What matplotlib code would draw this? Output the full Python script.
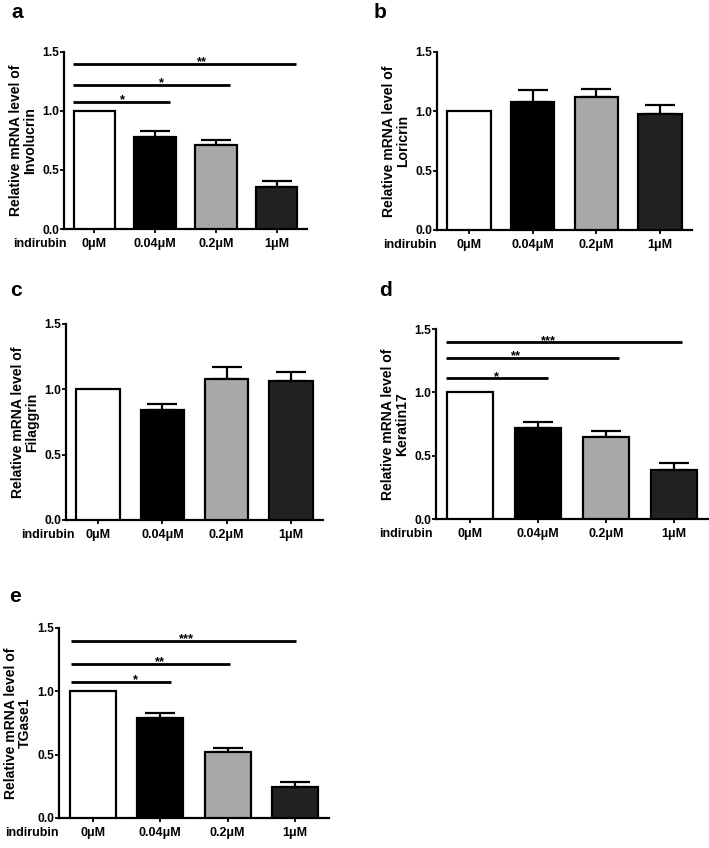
import matplotlib
matplotlib.use('Agg')
import matplotlib.pyplot as plt

plt.rcParams['font.family'] = ['Liberation Sans', 'DejaVu Sans']
plt.rcParams['font.weight'] = 'bold'

# ---------------- data ----------------
doses = ['0μM', '0.04μM', '0.2μM', '1μM']
treatment = 'indirubin'
genes = ['Involucrin', 'Loricrin', 'Filaggrin', 'Keratin17', 'TGase1']
panel_letters = ['a', 'b', 'c', 'd', 'e']

involucrin_mean = [1.0, 0.78, 0.71, 0.36]
involucrin_err = [0.0, 0.05, 0.04, 0.05]
loricrin_mean = [1.0, 1.08, 1.12, 0.98]
loricrin_err = [0.0, 0.10, 0.07, 0.07]
filaggrin_mean = [1.0, 0.84, 1.08, 1.06]
filaggrin_err = [0.0, 0.05, 0.09, 0.07]
keratin17_mean = [1.0, 0.72, 0.65, 0.39]
keratin17_err = [0.0, 0.045, 0.045, 0.05]
tgase1_mean = [1.0, 0.79, 0.525, 0.245]
tgase1_err = [0.0, 0.04, 0.03, 0.037]

involucrin_sig = ['*', '*', '**']
keratin17_sig = ['*', '**', '***']
tgase1_sig = ['*', '**', '***']

means = [involucrin_mean, loricrin_mean, filaggrin_mean, keratin17_mean, tgase1_mean]
errs = [involucrin_err, loricrin_err, filaggrin_err, keratin17_err, tgase1_err]
sigs = [involucrin_sig, None, None, keratin17_sig, tgase1_sig]

# ---------------- layout / style ----------------
W, H = 709, 848
DPI = 72
fig = plt.figure(figsize=(W / DPI, H / DPI), dpi=DPI)

# axes boxes in pixels: left, right, top, bottom
boxes = [
    (64, 307, 52, 229),
    (437, 692, 52, 230),
    (66, 323, 324, 520),
    (436, 708, 329, 519),
    (59, 329, 628, 818),
]
letter_pos = [(17, 12), (380, 12), (16, 290), (385, 290), (15, 597)]
indirubin_x = [-0.45, -0.5, -0.37, -0.55, -0.5]

# significance bar geometry: (start, end, height, star x)
sig_geom = [
    [(-0.36, 1.25, 1.08, 0.45), (-0.36, 2.24, 1.22, 1.09), (-0.36, 3.32, 1.40, 1.76)],
    None,
    None,
    [(-0.35, 1.15, 1.11, 0.37), (-0.35, 2.19, 1.27, 0.66), (-0.35, 3.12, 1.395, 1.14)],
    [(-0.32, 1.16, 1.072, 0.62), (-0.32, 2.03, 1.216, 0.98), (-0.32, 3.01, 1.40, 1.38)],
]

bar_colors = ['white', 'black', '#a8a8a8', '#222222']
x = list(range(len(doses)))

for i, gene in enumerate(genes):
    l, r, t, b = boxes[i]
    ax = fig.add_axes([l / W, (H - b) / H, (r - l) / W, (b - t) / H])
    ax.bar(x, means[i], width=0.68, color=bar_colors, edgecolor='black',
           linewidth=2.2, zorder=3)
    ex = [xx for xx, e in zip(x, errs[i]) if e > 0]
    ey = [m for m, e in zip(means[i], errs[i]) if e > 0]
    ee = [e for e in errs[i] if e > 0]
    ax.errorbar(ex, ey, yerr=[[0] * len(ee), ee], fmt='none', ecolor='black',
                elinewidth=2.2, capsize=15, capthick=2.2, zorder=2)
    ax.set_xlim(-0.5, 3.5)
    ax.set_ylim(0, 1.5)
    ax.set_yticks([0, 0.5, 1.0, 1.5])
    ax.set_yticklabels(['0.0', '0.5', '1.0', '1.5'], fontsize=12, fontweight='bold')
    ax.set_xticks(x)
    ax.set_xticklabels(doses, fontsize=12.5, fontweight='bold')
    ax.tick_params(axis='both', direction='out', length=4, width=1.8, pad=5)
    ax.tick_params(axis='y', pad=1)
    for s in ['top', 'right']:
        ax.spines[s].set_visible(False)
    for s in ['left', 'bottom']:
        ax.spines[s].set_linewidth(2.2)
    ax.set_ylabel('Relative mRNA level of\n' + gene, fontsize=14,
                  fontweight='bold', linespacing=1.0, labelpad=5)
    ax.annotate(treatment, xy=(indirubin_x[i], 0), xycoords=('data', 'axes fraction'),
                xytext=(0, -9), textcoords='offset points', ha='right', va='top',
                fontsize=12.5, fontweight='bold', annotation_clip=False)
    if sigs[i] is not None:
        for lab, (x0, x1, y, sx) in zip(sigs[i], sig_geom[i]):
            ax.plot([x0, x1], [y, y], color='black', lw=2.8, solid_capstyle='butt',
                    clip_on=False, zorder=4)
            ax.text(sx, y - 0.035, lab, ha='center', va='bottom', fontsize=13,
                    fontweight='bold')
    lx, ly = letter_pos[i]
    fig.text(lx / W, 1 - ly / H, panel_letters[i], ha='center', va='center',
             fontsize=21, fontweight='bold')

fig.savefig('out.png', dpi=DPI)
